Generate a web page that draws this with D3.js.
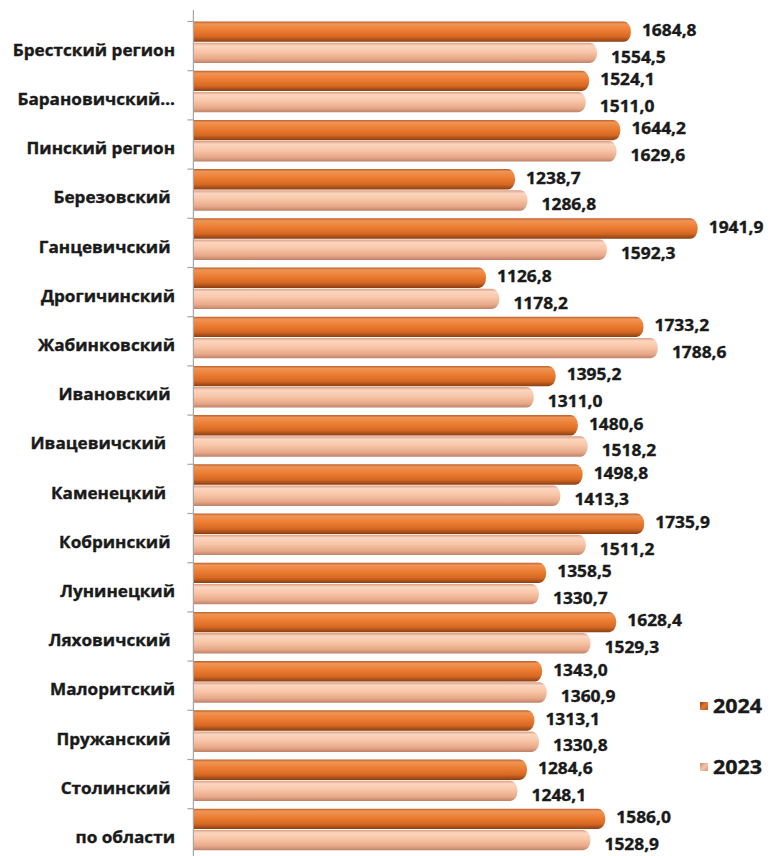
<!DOCTYPE html>
<html>
<head>
<meta charset="utf-8">
<script src="https://cdn.jsdelivr.net/npm/d3@7"></script>
<style>
  html, body { margin: 0; padding: 0; background: #ffffff; }
  svg { display: block; }
  text { font-family: "Open Sans", "Noto Sans", sans-serif; font-weight: 700; fill: #1a1a1a;
         stroke: #1a1a1a; stroke-width: 0.35px; white-space: pre; }
</style>
</head>
<body>
<svg id="chart" width="775" height="856"></svg>
<script>
// Districts of the Brest region (trailing spaces belong to the source names)
const categories = [
  "Брестский регион", "Барановичский…", "Пинский регион", "Березовский ",
  "Ганцевичский ", "Дрогичинский", "Жабинковский", "Ивановский ",
  "Ивацевичский  ", "Каменецкий  ", "Кобринский ", "Лунинецкий",
  "Ляховичский ", "Малоритский", "Пружанский ", "Столинский ", "по области"
];
const seriesNames = ["2024", "2023"];
const values2024 = [1684.8, 1524.1, 1644.2, 1238.7, 1941.9, 1126.8, 1733.2, 1395.2,
  1480.6, 1498.8, 1735.9, 1358.5, 1628.4, 1343.0, 1313.1, 1284.6, 1586.0];
const values2023 = [1554.5, 1511.0, 1629.6, 1286.8, 1592.3, 1178.2, 1788.6, 1311.0,
  1518.2, 1413.3, 1511.2, 1330.7, 1529.3, 1360.9, 1330.8, 1248.1, 1528.9];

const svg = d3.select("#chart");
const fmt = d3.formatLocale({ decimal: ",", thousands: " ", grouping: [3], currency: ["", ""] }).format(".1f");

// scales
const x = d3.scaleLinear().domain([0, 2000]).range([193.4, 193.4 + 519.4]);
const y = d3.scaleBand().domain(categories).range([21.5, 850.3]).paddingInner(0.1545).paddingOuter(0);
const ys = d3.scaleBand().domain(seriesNames).range([0, y.bandwidth()]).paddingInner(0.04);

const rows = categories.map((c, i) => ({ cat: c, "2024": values2024[i], "2023": values2023[i] }));

// cylinder-like gradients
const defs = svg.append("defs");
function grad(id, stops, x2, y2) {
  const g = defs.append("linearGradient").attr("id", id)
    .attr("x1", 0).attr("y1", 0).attr("x2", x2).attr("y2", y2);
  stops.forEach(([o, c]) => g.append("stop").attr("offset", o).attr("stop-color", c));
}
const orangeStops = [[0, "#bd5f28"], [0.12, "#ee9556"], [0.4, "#ee7f35"], [0.75, "#d66822"], [1, "#8a3f14"]];
const paleStops = [[0, "#dc9e81"], [0.15, "#fbd6c0"], [0.45, "#f8c6a7"], [0.8, "#e6a888"], [1, "#c08266"]];
grad("g2024", orangeStops, 0, 1);
grad("g2023", paleStops, 0, 1);
grad("l2024", [[0, "#8e4216"], [0.5, "#e57630"], [1, "#b85a20"]], 1, 1);
grad("l2023", [[0, "#c98a70"], [0.5, "#f6c3a6"], [1, "#d9997c"]], 1, 1);

// bar with a rounded (capped) right end
function barPath(x0, x1, top, h) {
  const rx = Math.min(7, (x1 - x0) / 2), ry = h / 2;
  return `M${x0},${top}H${x1 - rx}A${rx},${ry} 0 0 1 ${x1},${top + ry}A${rx},${ry} 0 0 1 ${x1 - rx},${top + h}H${x0}Z`;
}

const groups = svg.append("g").selectAll("g").data(rows).join("g")
  .attr("transform", d => `translate(0,${y(d.cat)})`);

groups.selectAll("path").data(d => seriesNames.map(s => ({ s, v: d[s] }))).join("path")
  .attr("d", d => barPath(x(0), x(d.v), ys(d.s), ys.bandwidth()))
  .attr("fill", d => `url(#g${d.s})`);

// value labels
const labelStretch = 1.1;
groups.selectAll("text.val").data(d => seriesNames.map(s => ({ s, v: d[s] }))).join("text")
  .attr("class", "val")
  .attr("transform", d => `translate(${x(d.v) + (d.s === "2024" ? 11 : 14)},${d.s === "2024" ? 14.5 : 41}) scale(${labelStretch},1)`)
  .attr("font-size", 15.8)
  .text(d => fmt(d.v));

// category axis
const axis = svg.append("g");
axis.append("line")
  .attr("x1", x(0)).attr("x2", x(0)).attr("y1", 10).attr("y2", 856)
  .attr("stroke", "#a6a6a6").attr("stroke-width", 1.2);
axis.selectAll("line.tick").data(categories).join("line")
  .attr("class", "tick")
  .attr("x1", x(0) - 6).attr("x2", x(0)).attr("y1", d => y(d)).attr("y2", d => y(d))
  .attr("stroke", "#a6a6a6").attr("stroke-width", 1.2);
axis.selectAll("text").data(categories).join("text")
  .attr("transform", d => `translate(175,${y(d) + 34.3}) scale(${labelStretch},1)`)
  .attr("text-anchor", "end")
  .attr("font-size", 15.6)
  .text(d => d);

// legend
const legend = svg.append("g").selectAll("g").data(seriesNames).join("g")
  .attr("transform", (d, i) => `translate(700,${706 + i * 61})`);
legend.append("rect").attr("x", 0).attr("y", -4).attr("width", 8).attr("height", 8)
  .attr("fill", d => `url(#l${d})`);
legend.append("text")
  .attr("transform", `translate(13,7) scale(${labelStretch},1)`)
  .attr("font-size", 19.5)
  .text(d => d);
</script>
</body>
</html>
